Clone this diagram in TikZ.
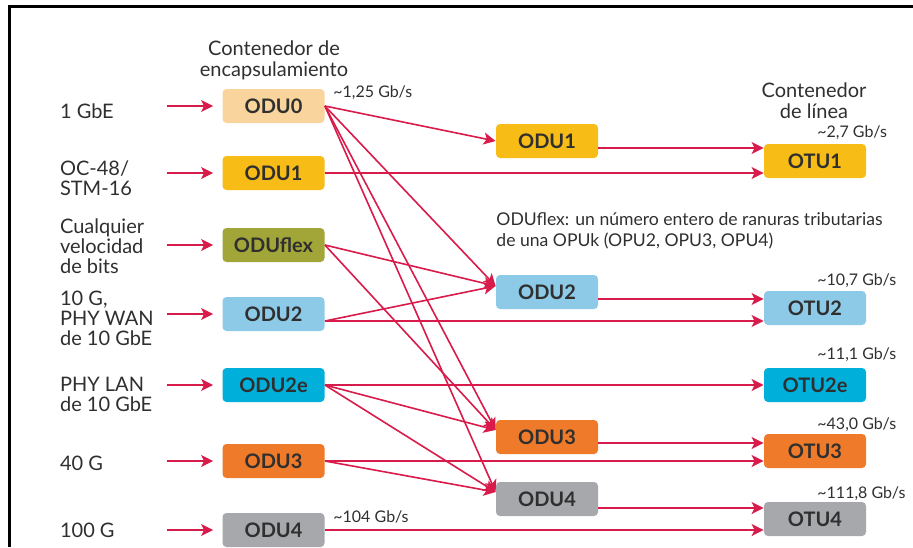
\documentclass[tikz,border=0pt]{standalone}
\usepackage{fontspec}
\setmainfont{Lato}
\usepackage{tikz}
\usetikzlibrary{arrows.meta,calc}
\definecolor{crojo}{HTML}{D81B4A}
\definecolor{cmelo}{HTML}{F9D49C}
\definecolor{coro}{HTML}{F8BC16}
\definecolor{coliva}{HTML}{A2A639}
\definecolor{ccielo}{HTML}{8DCAE7}
\definecolor{ccian}{HTML}{00AFDA}
\definecolor{cnaranja}{HTML}{EF7B2A}
\definecolor{cgris}{HTML}{A6A8AB}
\definecolor{ctexto}{HTML}{2F2F2F}
\tikzset{
  caja/.style={rectangle, rounded corners=2pt, minimum width=51pt, minimum height=17pt,
    inner sep=0pt, text=ctexto, font=\fontsize{10}{10}\selectfont\bfseries},
  flecha/.style={-{Stealth[length=6pt,width=6pt,inset=1.5pt]}, line width=0.8pt, draw=crojo},
  etq/.style={align=left, anchor=west, text=ctexto, font=\fontsize{10}{10}\selectfont},
  tasa/.style={anchor=west, inner sep=0pt, text=ctexto, font=\fontsize{8}{9}\selectfont},
  titulo/.style={align=center, text=ctexto, font=\fontsize{10}{10.5}\selectfont},
}

\begin{document}
\begin{tikzpicture}[x=0.5pt, y=-0.5pt]
  \useasboundingbox (0,0) rectangle (913,547);
  \draw[line width=1.5pt] (9,547) -- (9,6) -- (913,6);
  \coordinate (ent) at (167,0);
  % titulos y nota
  \node[titulo] (tenc) at (274,60) {Contenedor de\\encapsulamiento};
  \node[titulo] (tlin) at (814,101) {Contenedor\\de línea};
  \node[etq, inner sep=0pt, font=\fontsize{8.8}{10.5}\selectfont] (nota) at (496,231)
    {ODUflex: un número entero de ranuras tributarias\\de una OPUk (OPU2, OPU3, OPU4)};
  % entradas
  \node[etq] (e0) at (53,111) {1 GbE};
  \node[etq] (e1) at (53,178) {OC-48/\\STM-16};
  \node[etq] (ef) at (53,246) {Cualquier\\velocidad\\de bits};
  \node[etq] (e2) at (53,318) {10 G,\\PHY WAN\\de 10 GbE};
  \node[etq] (e2e) at (53,394) {PHY LAN\\de 10 GbE};
  \node[etq] (e3) at (53,463) {40 G};
  \node[etq] (e4) at (53,530) {100 G};
  % contenedores de encapsulamiento
  \node[caja, fill=cmelo] (i0) at (273.5,106) {ODU0};
  \node[caja, fill=coro] (i1) at (273.5,173) {ODU1};
  \node[caja, fill=coliva] (if) at (273.5,245) {ODUflex};
  \node[caja, fill=ccielo] (i2) at (273.5,314) {ODU2};
  \node[caja, fill=ccian] (i2e) at (273.5,385) {ODU2e};
  \node[caja, fill=cnaranja] (i3) at (273.5,461) {ODU3};
  \node[caja, fill=cgris] (i4) at (273.5,530) {ODU4};
  % columna central
  \node[caja, fill=coro] (m1) at (547,141) {ODU1};
  \node[caja, fill=ccielo] (m2) at (547,292) {ODU2};
  \node[caja, fill=cnaranja] (m3) at (547,437) {ODU3};
  \node[caja, fill=cgris] (m4) at (547,499) {ODU4};
  % contenedores de linea
  \node[caja, fill=coro] (o1) at (815,161) {OTU1};
  \node[caja, fill=ccielo] (o2) at (815,308) {OTU2};
  \node[caja, fill=ccian] (o2e) at (815,385) {OTU2e};
  \node[caja, fill=cnaranja] (o3) at (815,451) {OTU3};
  \node[caja, fill=cgris] (o4) at (815,519) {OTU4};
  % tasas
  \node[tasa] (t0) at (333,93) {\textasciitilde 1,25 Gb/s};
  \node[tasa] (t4) at (333,517) {\textasciitilde 104 Gb/s};
  \node[tasa] (r1) at (817,133) {\textasciitilde 2,7 Gb/s};
  \node[tasa] (r2) at (817,281) {\textasciitilde 10,7 Gb/s};
  \node[tasa] (r2e) at (817,355) {\textasciitilde 11,1 Gb/s};
  \node[tasa] (r3) at (817,425) {\textasciitilde 43,0 Gb/s};
  \node[tasa] (r4) at (817,494) {\textasciitilde 111,8 Gb/s};
  % flechas de entrada
  \foreach \c in {i0,i1,if,i2,i2e,i3,i4}
    \draw[flecha, shorten >=4.5pt] (\c.west -| ent) -- (\c.west);
  % mapeos hacia la columna central
  \draw[flecha] (i0.east) -- (m1.west);
  \draw[flecha] (i0.east) -- ($(m2.west)+(0,-6)$);
  \draw[flecha] (i0.east) -- ($(m3.west)+(0,-7)$);
  \draw[flecha] (i0.east) -- ($(m4.west)+(0,-7)$);
  \draw[flecha] (if.east) -- ($(m2.west)+(0,-6)$);
  \draw[flecha] (if.east) -- ($(m3.west)+(0,-7)$);
  \draw[flecha] ($(i2.east)+(0,7)$) -- ($(m2.west)+(0,-6)$);
  \draw[flecha] (i2e.east) -- ($(m3.west)+(0,-7)$);
  \draw[flecha] (i2e.east) -- ($(m4.west)+(0,-7)$);
  \draw[flecha] (i3.east) -- ($(m4.west)+(0,-7)$);
  % hacia los contenedores de linea
  \draw[flecha] ($(m1.east)+(0,7)$) -- ($(m1.east -| o1.west)+(0,7)$);
  \draw[flecha] (i1.east) -- (i1.east -| o1.west);
  \draw[flecha] ($(m2.east)+(0,7)$) -- ($(m2.east -| o2.west)+(0,7)$);
  \draw[flecha] ($(i2.east)+(0,7)$) -- ($(i2.east -| o2.west)+(0,7)$);
  \draw[flecha] (i2e.east) -- (i2e.east -| o2e.west);
  \draw[flecha] ($(m3.east)+(0,6)$) -- ($(m3.east -| o3.west)+(0,6)$);
  \draw[flecha] (i3.east) -- (i3.east -| o3.west);
  \draw[flecha] ($(m4.east)+(0,9)$) -- ($(m4.east -| o4.west)+(0,9)$);
  \draw[flecha] (i4.east) -- (i4.east -| o4.west);
\end{tikzpicture}
\end{document}
